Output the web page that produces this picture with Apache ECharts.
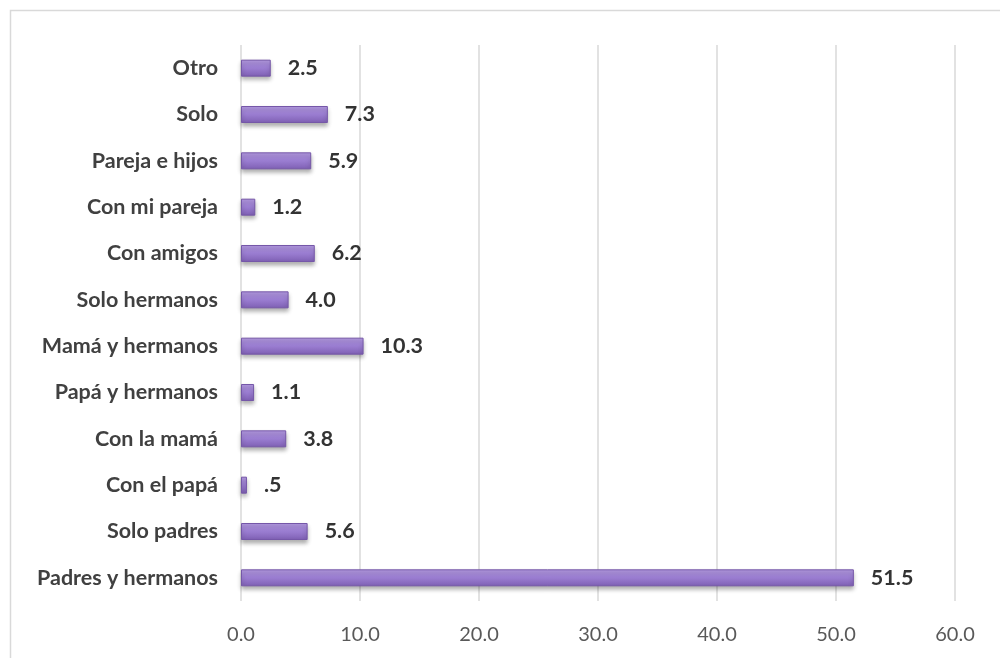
<!DOCTYPE html>
<html>
<head>
<meta charset="utf-8">
<script src="https://cdn.jsdelivr.net/npm/echarts@6/dist/echarts.min.js"></script>
<style>
html,body{margin:0;padding:0;background:#fff;}
#chart{width:1000px;height:658px;}
</style>
</head>
<body>
<div id="chart"></div>
<script>
// Categories listed bottom to top
const categories = ['Padres y hermanos','Solo padres','Con el papá','Con la mamá','Papá y hermanos','Mamá y hermanos','Solo hermanos','Con amigos','Con mi pareja','Pareja e hijos','Solo','Otro'];
const values = [51.5, 5.6, 0.5, 3.8, 1.1, 10.3, 4.0, 6.2, 1.2, 5.9, 7.3, 2.5];
const valueLabels = ['51.5','5.6','.5','3.8','1.1','10.3','4.0','6.2','1.2','5.9','7.3','2.5'];
const xTicks = [0, 10, 20, 30, 40, 50, 60];

const chart = echarts.init(document.getElementById('chart'));
const FONT = 'Lato';
chart.setOption({
  animation: false,
  backgroundColor: '#ffffff',
  graphic: [{
    type: 'rect',
    shape: {x: 10.5, y: 10.5, width: 1000, height: 700},
    style: {fill: 'none', stroke: '#d9d9d9', lineWidth: 1.5},
    silent: true
  }],
  grid: {left: 241, right: 45, top: 45, bottom: 57, containLabel: false},
  xAxis: {
    type: 'value',
    min: xTicks[0],
    max: xTicks[xTicks.length - 1],
    interval: 10,
    axisLine: {show: false},
    axisTick: {show: false},
    splitLine: {show: true, lineStyle: {color: '#d9d9d9', width: 1.5}},
    axisLabel: {
      margin: 24,
      color: '#595959',
      fontFamily: FONT,
      fontSize: 20,
      formatter: v => v.toFixed(1)
    }
  },
  yAxis: {
    type: 'category',
    data: categories,
    axisLine: {show: false},
    axisTick: {show: false},
    axisLabel: {
      margin: 23,
      color: '#404040',
      fontFamily: FONT,
      fontWeight: 'bold',
      fontSize: 21.5
    }
  },
  series: [{
    type: 'bar',
    data: values,
    barWidth: 17,
    itemStyle: {
      color: new echarts.graphic.LinearGradient(0, 0, 0, 1, [
        {offset: 0, color: '#b39ae0'},
        {offset: 0.45, color: '#9d80d4'},
        {offset: 1, color: '#7e5fb3'}
      ]),
      borderColor: '#7557a8',
      borderWidth: 1,
      shadowColor: 'rgba(0,0,0,0.3)',
      shadowBlur: 4,
      shadowOffsetY: 3
    },
    label: {
      show: true,
      position: 'right',
      distance: 17,
      color: '#333333',
      fontFamily: FONT,
      fontWeight: 'bold',
      fontSize: 21.5,
      formatter: p => valueLabels[p.dataIndex]
    }
  }]
});
</script>
</body>
</html>
